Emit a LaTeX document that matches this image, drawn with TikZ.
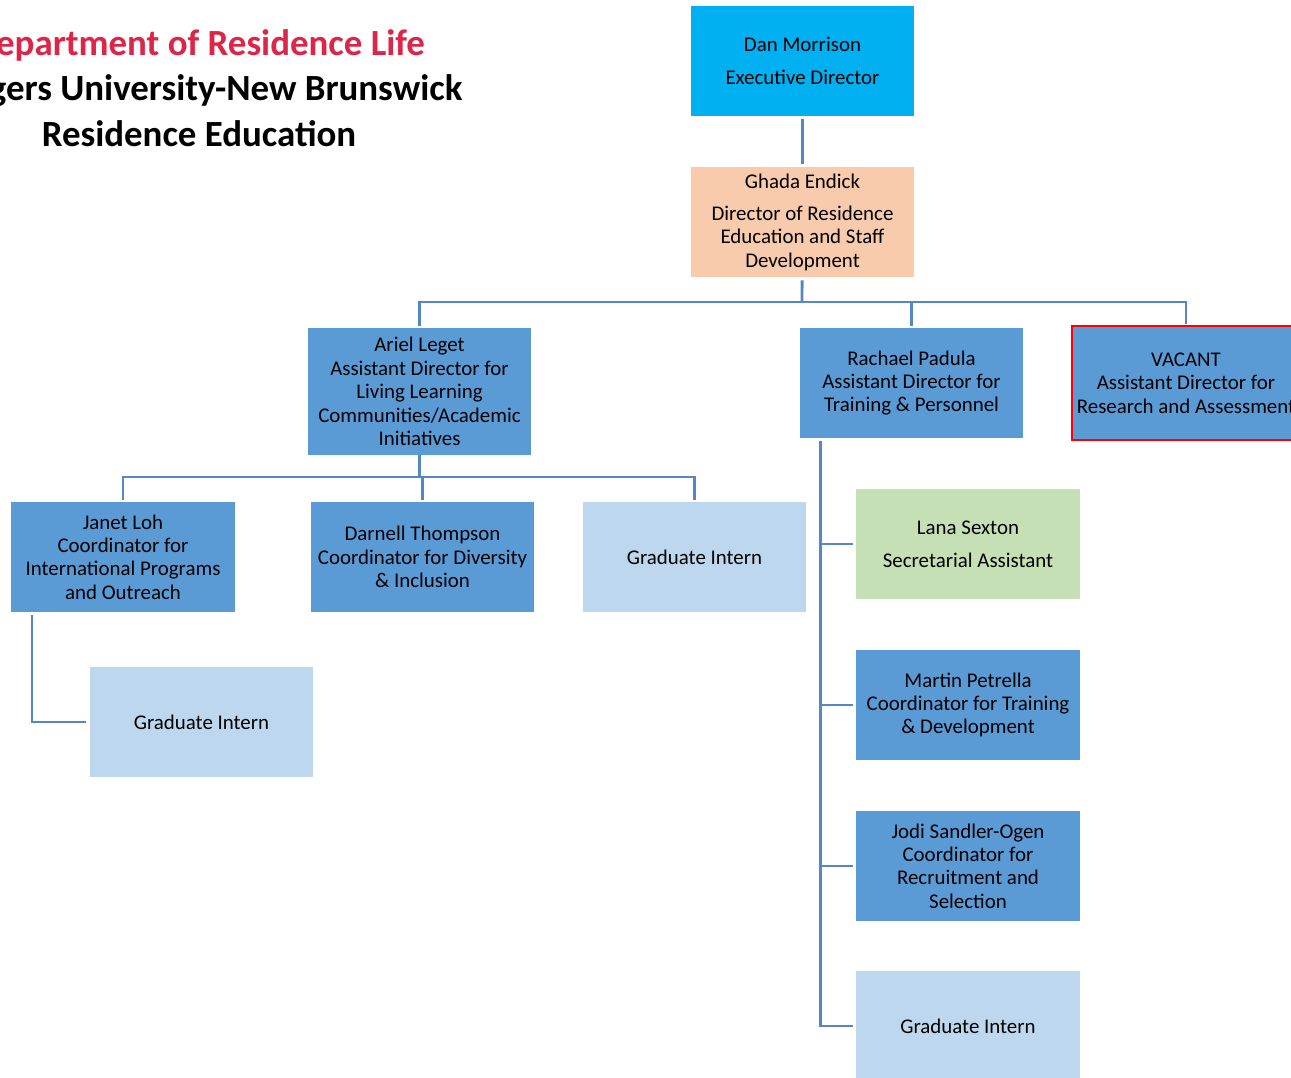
\documentclass[tikz,border=0pt]{standalone}
\usepackage{fontspec}
\setmainfont{Carlito}
\usetikzlibrary{calc}
\definecolor{execblue}{RGB}{0,176,240}
\definecolor{dirpeach}{RGB}{248,203,173}
\definecolor{staffblue}{RGB}{91,155,213}
\definecolor{internblue}{RGB}{189,215,238}
\definecolor{secgreen}{RGB}{197,224,180}
\definecolor{linkblue}{RGB}{84,136,196}
\definecolor{ruRed}{RGB}{220,38,72}
\begin{document}
\begin{tikzpicture}[x=0.02cm, y=-0.02cm,
  box/.style={minimum width=4.47cm, minimum height=2.2cm, align=center, inner sep=0pt,
    font=\fontsize{11.9}{13.3}\selectfont},
  staff/.style={box, fill=staffblue},
  intern/.style={box, fill=internblue},
  link/.style={draw=linkblue, line width=1.6pt}]
\useasboundingbox (0,0) rectangle (1291,1078);
\clip (0,0) rectangle (1291,1078);

% title
\node [align=center, font=\bfseries\fontsize{21}{26}\selectfont] (title) at (199,88)
  {\textcolor{ruRed}{Department of Residence Life}\\Rutgers University-New Brunswick\\Residence Education};

% top of the chart
\node [box, fill=execblue] (dan) at (802.5,61) {Dan Morrison\\[5.4pt]Executive Director};
\node [box, fill=dirpeach] (ghada) at (802.5,222) {Ghada Endick\\[5pt]Director of Residence\\Education and Staff\\Development};

% assistant directors
\node [staff, minimum height=2.54cm] (ariel) at (419.5,391.5) {Ariel Leget\\Assistant Director for\\Living Learning\\Communities/Academic\\Initiatives};
\node [staff] (rachael) at (911.5,383) {Rachael Padula\\Assistant Director for\\Training \& Personnel};
\node [staff, minimum width=4.56cm, minimum height=2.28cm, draw=red, line width=1.4pt] (vacant) at (1186,383) {VACANT\\Assistant Director for\\Research and Assessment};

% under Ariel
\node [staff] (janet) at (123,557) {Janet Loh\\Coordinator for\\International Programs\\and Outreach};
\node [staff] (darnell) at (422.5,557) {Darnell Thompson\\Coordinator for Diversity\\\& Inclusion};
\node [intern] (internA) at (694.5,557) {Graduate Intern};
\node [intern] (internJ) at (201.5,722) {Graduate Intern};

% under Rachael
\node [box, fill=secgreen] (lana) at (968,544) {Lana Sexton\\[5.4pt]Secretarial Assistant};
\node [staff] (martin) at (968,705) {Martin Petrella\\Coordinator for Training\\\& Development};
\node [staff] (jodi) at (968,866) {Jodi Sandler-Ogen\\Coordinator for\\Recruitment and\\Selection};
\node [intern] (internR) at (968,1026) {Graduate Intern};

\coordinate (busTop) at (802,302);
\coordinate (busAriel) at (419.5,477);
\coordinate (trunkJ) at ($(janet.south west)+(21,3)$);
\coordinate (trunkR) at ($(rachael.south west)+(21,3)$);

\draw [link, shorten <=1.7pt, shorten >=1.7pt] (dan) -- (ghada);
\draw [link, shorten <=1.7pt] (ghada) -- (busTop);
\draw [link, shorten >=1.1pt] (busTop) -| (ariel.north);
\draw [link, shorten >=1.1pt] (busTop) -| (rachael.north);
\draw [link, shorten >=0.6pt] (busTop) -| (vacant.north);

\draw [link] (ariel) -- (busAriel);
\draw [link, shorten >=1.1pt] (busAriel) -| (janet.north);
\draw [link, shorten >=1.1pt] (busAriel) -| (darnell.north);
\draw [link, shorten >=1.1pt] (busAriel) -| (internA.north);

\draw [link, shorten >=1.7pt] (trunkJ) |- (internJ.west);

\draw [link, shorten >=1.7pt] (trunkR) |- (lana.west);
\draw [link, shorten >=1.7pt] (trunkR) |- (martin.west);
\draw [link, shorten >=1.7pt] (trunkR) |- (jodi.west);
\draw [link, shorten >=1.7pt] (trunkR) |- (internR.west);
\end{tikzpicture}
\end{document}
